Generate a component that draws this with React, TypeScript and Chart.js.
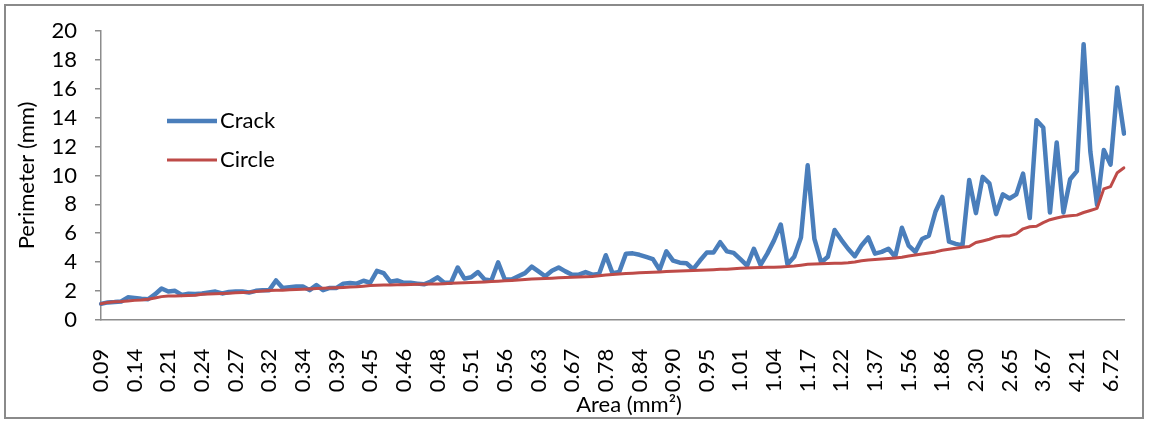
import React, { useEffect, useRef } from "react";
import { Chart, registerables } from "chart.js";

Chart.register(...registerables);

// Visible category tick labels (every 5th category is labelled)
const tickLabels = [
  "0.09", "0.14", "0.21", "0.24", "0.27", "0.32", "0.34", "0.39", "0.45", "0.46",
  "0.48", "0.51", "0.56", "0.63", "0.67", "0.78", "0.84", "0.90", "0.95", "1.01",
  "1.04", "1.17", "1.22", "1.37", "1.56", "1.86", "2.30", "2.65", "3.67", "4.21", "6.72",
];
const labelStep = 5;

// Crack perimeter (mm)
const crack = [
  1.1, 1.2, 1.22, 1.26, 1.55, 1.5, 1.45, 1.42, 1.75, 2.16,
  1.95, 2.0, 1.72, 1.8, 1.78, 1.82, 1.88, 1.95, 1.82, 1.92,
  1.95, 1.95, 1.88, 2.0, 2.05, 2.05, 2.72, 2.2, 2.25, 2.3,
  2.3, 2.05, 2.4, 2.05, 2.2, 2.2, 2.5, 2.55, 2.5, 2.7,
  2.56, 3.39, 3.23, 2.63, 2.72, 2.56, 2.56, 2.5, 2.45, 2.65,
  2.94, 2.56, 2.56, 3.62, 2.85, 2.94, 3.3, 2.79, 2.72, 3.97,
  2.79, 2.79, 3.01, 3.23, 3.68, 3.35, 3.01, 3.39, 3.62, 3.35,
  3.12, 3.12, 3.3, 3.12, 3.17, 4.47, 3.23, 3.3, 4.58, 4.6,
  4.5, 4.35, 4.2, 3.46, 4.74, 4.1, 3.95, 3.91, 3.5, 4.1,
  4.65, 4.65, 5.37, 4.74, 4.63, 4.2, 3.75, 4.92, 3.8, 4.58,
  5.5, 6.6, 3.84, 4.36, 5.7, 10.7, 5.6, 3.97, 4.36, 6.22,
  5.54, 4.92, 4.4, 5.14, 5.7, 4.58, 4.7, 4.92, 4.36, 6.38,
  5.14, 4.7, 5.59, 5.82, 7.5, 8.51, 5.41, 5.26, 5.15, 9.68,
  7.39, 9.9, 9.45, 7.32, 8.69, 8.4, 8.69, 10.13, 7.05, 13.83,
  13.33, 7.43, 12.28, 7.43, 9.74, 10.3, 19.1, 11.65, 7.95, 11.76,
  10.75, 16.1, 12.9,
];

// Circle perimeter (mm)
const circle = [
  1.1, 1.2, 1.24, 1.26, 1.3, 1.34, 1.37, 1.42, 1.5, 1.6,
  1.64, 1.65, 1.66, 1.68, 1.7, 1.76, 1.78, 1.8, 1.82, 1.84,
  1.86, 1.88, 1.9, 1.95, 1.99, 2.02, 2.04, 2.05, 2.07, 2.09,
  2.11, 2.13, 2.16, 2.18, 2.2, 2.22, 2.24, 2.26, 2.28, 2.32,
  2.37, 2.39, 2.4, 2.41, 2.42, 2.43, 2.44, 2.45, 2.46, 2.47,
  2.48, 2.5, 2.52, 2.54, 2.56, 2.58, 2.6, 2.62, 2.65, 2.67,
  2.7, 2.72, 2.75, 2.79, 2.82, 2.84, 2.86, 2.88, 2.9, 2.92,
  2.94, 2.96, 2.98, 3.0, 3.04, 3.1, 3.14, 3.17, 3.2, 3.22,
  3.25, 3.27, 3.29, 3.31, 3.34, 3.36, 3.38, 3.39, 3.41, 3.43,
  3.45, 3.47, 3.49, 3.5, 3.53, 3.56, 3.58, 3.6, 3.62, 3.63,
  3.64, 3.66, 3.68, 3.72, 3.78, 3.84, 3.86, 3.88, 3.9, 3.91,
  3.92, 3.95, 4.0, 4.08, 4.14, 4.17, 4.2, 4.24, 4.28, 4.33,
  4.42, 4.48, 4.55, 4.62, 4.7, 4.81, 4.88, 4.95, 5.02, 5.07,
  5.35, 5.46, 5.58, 5.74, 5.81, 5.81, 5.95, 6.3, 6.44, 6.48,
  6.73, 6.93, 7.05, 7.15, 7.2, 7.25, 7.43, 7.57, 7.72, 9.07,
  9.23, 10.19, 10.53,
];

const categories = crack.map((_, i) =>
  i % labelStep === 0 ? tickLabels[i / labelStep] ?? "" : ""
);

const FONT = "Lato";
const W = 1149;
const H = 421;

const overlayPlugin = {
  id: "overlay",
  afterDraw(chart: any) {
    const ctx = chart.ctx as CanvasRenderingContext2D;
    ctx.save();
    // legend inside plot
    chart.data.datasets.forEach((ds: any, i: number) => {
      const y = 121 + i * 39;
      ctx.strokeStyle = ds.borderColor;
      ctx.lineWidth = ds.borderWidth;
      ctx.lineCap = "butt";
      ctx.beginPath();
      ctx.moveTo(167, y);
      ctx.lineTo(217, y);
      ctx.stroke();
      ctx.fillStyle = "#000";
      ctx.font = `22px ${FONT}`;
      ctx.textAlign = "left";
      ctx.textBaseline = "middle";
      ctx.fillText(ds.label, 220, y);
    });
    // x-axis title
    ctx.fillStyle = "#000";
    ctx.font = `22px ${FONT}`;
    ctx.textAlign = "center";
    ctx.textBaseline = "middle";
    ctx.fillText("Area (mm\u00B2)", 629, 405);
    // outer chart border
    ctx.strokeStyle = "#8a8a8a";
    ctx.lineWidth = 2;
    ctx.strokeRect(5, 5, 1138, 413);
    ctx.restore();
  },
};

export default function App() {
  const ref = useRef<HTMLCanvasElement | null>(null);

  useEffect(() => {
    document.body.style.margin = "0";
    if (!ref.current) return;
    const chart = new Chart(ref.current, {
      type: "line",
      data: {
        labels: categories,
        datasets: [
          {
            label: "Crack",
            data: crack,
            borderColor: "#4A7EBB",
            backgroundColor: "#4A7EBB",
            borderWidth: 4.5,
            pointRadius: 0,
            tension: 0,
            borderJoinStyle: "round",
            borderCapStyle: "round",
            order: 1,
          },
          {
            label: "Circle",
            data: circle,
            borderColor: "#BE4B48",
            backgroundColor: "#BE4B48",
            borderWidth: 3,
            pointRadius: 0,
            tension: 0,
            borderJoinStyle: "round",
            borderCapStyle: "round",
            order: 0,
          },
        ],
      },
      options: {
        responsive: false,
        animation: false,
        layout: { padding: { left: 0, right: 25, top: 22.7, bottom: 0 } },
        plugins: {
          legend: { display: false },
          tooltip: { enabled: false },
          title: { display: false },
        },
        scales: {
          x: {
            type: "category",
            offset: false,
            grid: { display: false },
            border: { display: true, color: "#8c8c8c", width: 1.5 },
            ticks: {
              autoSkip: false,
              minRotation: 90,
              maxRotation: 90,
              padding: 21,
              color: "#000",
              font: { family: FONT, size: 22 },
            },
            afterFit(scale: any) {
              scale.height = H - 319.7;
              scale.paddingLeft = 0;
              scale.paddingRight = 0;
            },
          },
          y: {
            min: 0,
            max: 20,
            ticks: {
              stepSize: 2,
              autoSkip: false,
              padding: 18,
              color: "#000",
              font: { family: FONT, size: 22 },
            },
            grid: {
              display: true,
              drawOnChartArea: false,
              drawTicks: true,
              tickLength: 6,
              color: "#8c8c8c",
              lineWidth: 1.5,
            },
            border: { display: true, color: "#8c8c8c", width: 1.5 },
            title: {
              display: true,
              text: "Perimeter (mm)",
              color: "#000",
              font: { family: FONT, size: 22 },
              padding: { top: 14, bottom: 0 },
            },
            afterFit(scale: any) {
              scale.width = 101;
            },
          },
        },
      },
      plugins: [overlayPlugin],
    });
    return () => chart.destroy();
  }, []);

  return (
    <div style={{ width: W, height: H, background: "#fff" }}>
      <canvas ref={ref} width={W} height={H} style={{ display: "block" }} />
    </div>
  );
}
